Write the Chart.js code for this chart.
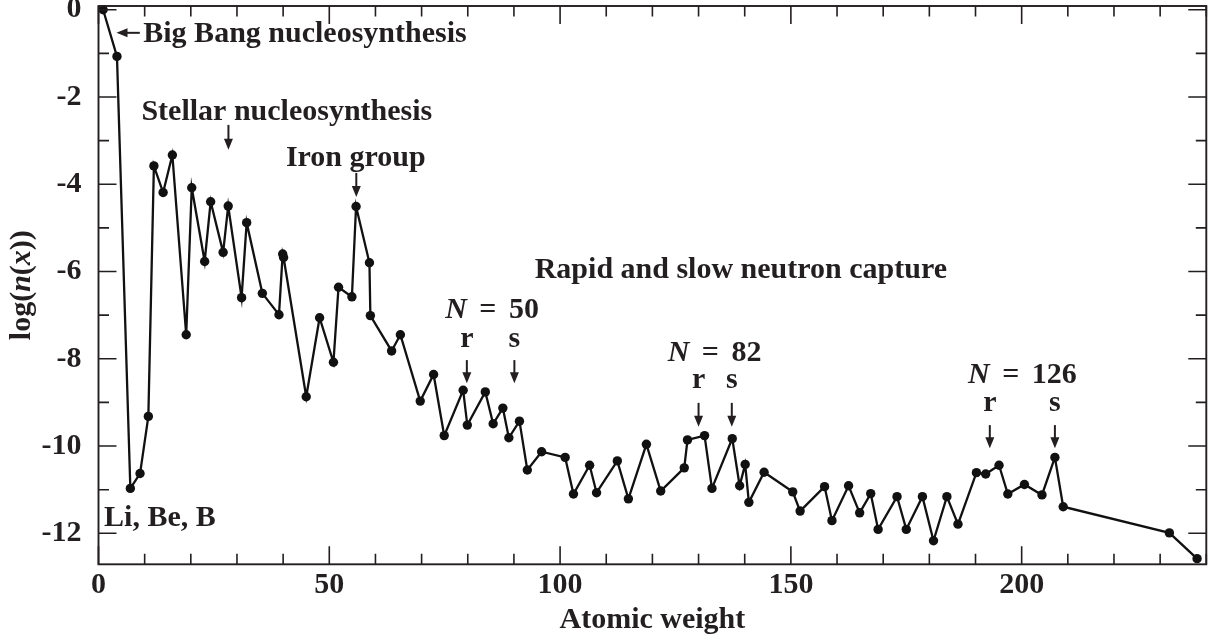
<!DOCTYPE html>
<html>
<head>
<meta charset="utf-8">
<title>Solar system abundances</title>
<script src="https://cdn.jsdelivr.net/npm/chart.js@4.4.1/dist/chart.umd.min.js"></script>
<style>
    html, body { margin: 0; padding: 0; background: #fff; overflow: hidden; }
    canvas { display: block; }
</style>
</head>
<body>
<canvas id="abundanceChart" width="1211" height="635"></canvas>
<script>
// Element symbols, atomic weight and log abundance relative to hydrogen
const elements = ["H", "He", "Li", "Be", "B", "C", "N", "O", "F", "Ne", "Na", "Mg", "Al", "Si", "P", "S", "Cl",
    "K", "Ar", "Ca", "Sc", "Ti", "V", "Cr", "Mn", "Fe", "Ni", "Co", "Cu", "Zn", "Ga", "Ge", "As", "Se", "Br",
    "Kr", "Rb", "Sr", "Y", "Zr", "Nb", "Mo", "Ru", "Rh", "Pd", "Ag", "Cd", "In", "Sn", "Sb", "I", "Te", "Xe",
    "Cs", "Ba", "La", "Ce", "Pr", "Nd", "Sm", "Eu", "Gd", "Tb", "Dy", "Ho", "Er", "Tm", "Yb", "Lu", "Hf", "Ta",
    "W", "Re", "Os", "Ir", "Pt", "Au", "Hg", "Tl", "Pb", "Bi", "Th", "U"];

const atomicWeight = [1.0, 4.0, 6.9, 9.0, 10.8, 12.0, 14.0, 16.0, 19.0, 20.2, 23.0, 24.3, 27.0, 28.1, 31.0, 32.1, 35.5,
    39.1, 39.9, 40.1, 45.0, 47.9, 50.9, 52.0, 54.9, 55.8, 58.7, 58.9, 63.5, 65.4, 69.7, 72.6, 74.9, 79.0, 79.9,
    83.8, 85.5, 87.6, 88.9, 91.2, 92.9, 96.0, 101.1, 102.9, 106.4, 107.9, 112.4, 114.8, 118.7, 121.8, 126.9, 127.6, 131.3,
    132.9, 137.3, 138.9, 140.1, 140.9, 144.2, 150.4, 152.0, 157.3, 158.9, 162.5, 164.9, 167.3, 168.9, 173.0, 175.0, 178.5, 180.9,
    183.8, 186.2, 190.2, 192.2, 195.1, 197.0, 200.6, 204.4, 207.2, 209.0, 232.0, 238.0];

const logAbundance = [0.0, -1.07, -10.97, -10.63, -9.32, -3.58, -4.19, -3.33, -7.45, -4.08, -5.77, -4.40, -5.56, -4.50, -6.60, -4.88, -6.50,
    -6.99, -5.60, -5.68, -8.87, -7.06, -8.08, -6.36, -6.58, -4.51, -5.80, -7.01, -7.82, -7.45, -8.97, -8.36, -9.76, -8.72, -9.52,
    -8.76, -9.49, -9.13, -9.81, -9.43, -10.55, -10.13, -10.26, -11.10, -10.44, -11.07, -10.34, -11.21, -9.96, -11.03, -10.50, -9.86, -9.76,
    -10.97, -9.83, -10.91, -10.42, -11.29, -10.60, -11.05, -11.49, -10.93, -11.71, -10.91, -11.53, -11.09, -11.91, -11.16, -11.91, -11.16, -12.17,
    -11.16, -11.79, -10.61, -10.64, -10.44, -11.10, -10.88, -11.12, -10.26, -11.39, -11.99, -12.58];

const xTickStep = 10, xLabelEvery = 50;
const yTickStep = 1, yLabelEvery = 2;

const INK = "#231f20";
const FONT = '"Liberation Serif", "Times New Roman", serif';
const GAP = " \u2006";   // a little wider than a plain space round "="

// Labels and arrows, placed in data units (atomic weight, log abundance)
const notes = [
    { parts: [["Big Bang nucleosynthesis"]], x: 9.7, y: -0.73 },
    { parts: [["Stellar nucleosynthesis"]], x: 9.3, y: -2.52 },
    { parts: [["Iron group"]], x: 40.6, y: -3.59 },
    { parts: [["Rapid and slow neutron capture"]], x: 94.5, y: -6.15 },
    { parts: [["N", true], [GAP + "=" + GAP + "50"]], x: 75.1, y: -7.07 },
    { parts: [["r"]], x: 79.8, y: -7.72, center: true },
    { parts: [["s"]], x: 90.1, y: -7.72, center: true },
    { parts: [["N", true], [GAP + "=" + GAP + "82"]], x: 123.3, y: -8.04 },
    { parts: [["r"]], x: 130.0, y: -8.68, center: true },
    { parts: [["s"]], x: 137.2, y: -8.68, center: true },
    { parts: [["N", true], [GAP + "=" + GAP + "126"]], x: 188.4, y: -8.56 },
    { parts: [["r"]], x: 193.1, y: -9.20, center: true },
    { parts: [["s"]], x: 207.2, y: -9.20, center: true },
    { parts: [["Li, Be, B"]], x: 1.2, y: -11.83 }
];

const arrows = [
    { from: [8.95, -0.53], to: [3.9, -0.53] },
    { from: [28.15, -2.64], to: [28.15, -3.21] },
    { from: [55.85, -3.74], to: [55.85, -4.29] },
    { from: [79.8, -8.03], to: [79.8, -8.56] },
    { from: [90.1, -8.03], to: [90.1, -8.56] },
    { from: [130.0, -9.01], to: [130.0, -9.56] },
    { from: [137.2, -9.01], to: [137.2, -9.56] },
    { from: [193.1, -9.52], to: [193.1, -10.05] },
    { from: [207.2, -9.52], to: [207.2, -10.05] }
];

// Draws a run of text pieces, some of them italic
function drawRich(ctx, parts, x, y, center) {
    const fonts = parts.map(p => (p[1] ? "italic bold 30px " : "bold 30px ") + FONT);
    let total = 0;
    parts.forEach((p, i) => { ctx.font = fonts[i]; total += ctx.measureText(p[0]).width; });
    let cx = center ? x - total / 2 : x;
    ctx.textAlign = "left";
    parts.forEach((p, i) => {
        ctx.font = fonts[i];
        ctx.fillText(p[0], cx, y);
        cx += ctx.measureText(p[0]).width;
    });
}

function drawArrow(ctx, x1, y1, x2, y2) {
    const ang = Math.atan2(y2 - y1, x2 - x1);
    const head = 11, half = 4.5;
    ctx.beginPath();
    ctx.moveTo(x1, y1);
    ctx.lineTo(x2 - Math.cos(ang) * head * 0.8, y2 - Math.sin(ang) * head * 0.8);
    ctx.stroke();
    ctx.beginPath();
    ctx.moveTo(x2, y2);
    ctx.lineTo(x2 - Math.cos(ang) * head - Math.sin(ang) * half, y2 - Math.sin(ang) * head + Math.cos(ang) * half);
    ctx.lineTo(x2 - Math.cos(ang) * head + Math.sin(ang) * half, y2 - Math.sin(ang) * head - Math.cos(ang) * half);
    ctx.closePath();
    ctx.fill();
}

// Box round the plot with inward ticks on all four sides
const framePlugin = {
    id: "frame",
    afterDatasetsDraw(chart) {
        const { ctx, chartArea: a, scales: { x, y } } = chart;
        ctx.save();
        ctx.strokeStyle = INK;
        ctx.lineWidth = 1.6;
        x.ticks.forEach(t => {
            const px = x.getPixelForValue(t.value);
            const len = t.value % xLabelEvery === 0 ? 18 : 10.5;
            ctx.beginPath();
            ctx.moveTo(px, a.bottom); ctx.lineTo(px, a.bottom - len);
            ctx.moveTo(px, a.top); ctx.lineTo(px, a.top + len);
            ctx.stroke();
        });
        y.ticks.forEach(t => {
            const py = y.getPixelForValue(t.value);
            const len = t.value % yLabelEvery === 0 ? 18 : 10.5;
            ctx.beginPath();
            ctx.moveTo(a.left, py); ctx.lineTo(a.left + len, py);
            ctx.moveTo(a.right, py); ctx.lineTo(a.right - len, py);
            ctx.stroke();
        });
        ctx.lineWidth = 1.9;
        ctx.strokeRect(a.left, a.top, a.right - a.left, a.bottom - a.top);
        ctx.restore();
    }
};

const notesPlugin = {
    id: "notes",
    afterDraw(chart) {
        const { ctx, chartArea: a, scales: { x, y } } = chart;
        ctx.save();
        ctx.fillStyle = INK;
        ctx.strokeStyle = INK;
        ctx.lineWidth = 2;
        ctx.textBaseline = "alphabetic";
        notes.forEach(n => drawRich(ctx, n.parts, x.getPixelForValue(n.x), y.getPixelForValue(n.y), n.center));
        arrows.forEach(ar => drawArrow(ctx,
            x.getPixelForValue(ar.from[0]), y.getPixelForValue(ar.from[1]),
            x.getPixelForValue(ar.to[0]), y.getPixelForValue(ar.to[1])));

        // y axis title: log(n(x)) with italic n and x
        ctx.translate(30, (a.top + a.bottom) / 2);
        ctx.rotate(-Math.PI / 2);
        drawRich(ctx, [["log("], ["n", true], ["("], ["x", true], ["))"]], 0, 0, true);
        ctx.restore();
    }
};

const points = atomicWeight.map((w, i) => ({ x: w, y: logAbundance[i] }));

new Chart(document.getElementById("abundanceChart"), {
    type: "line",
    data: {
        labels: elements,
        datasets: [{
            data: points,
            borderColor: "#111",
            borderWidth: 2.3,
            pointRadius: 4.7,
            pointBackgroundColor: "#111",
            pointBorderWidth: 0,
            tension: 0,
            clip: false
        }]
    },
    options: {
        responsive: false,
        animation: false,
        events: [],
        layout: { padding: { top: 6, right: 0, left: 0, bottom: 0 } },
        plugins: {
            legend: { display: false },
            tooltip: { enabled: false }
        },
        scales: {
            x: {
                type: "linear",
                min: 0,
                max: 240,
                grid: { display: false },
                border: { display: false },
                ticks: {
                    stepSize: xTickStep,
                    autoSkip: false,
                    maxRotation: 0,
                    padding: -5,
                    color: INK,
                    font: { family: FONT, size: 30, weight: "bold" },
                    callback: v => (v % xLabelEvery === 0 ? String(v) : "")
                },
                title: {
                    display: true,
                    text: "Atomic weight",
                    color: INK,
                    padding: { top: 0, bottom: -3 },
                    font: { family: FONT, size: 30, weight: "bold" }
                },
                afterFit(scale) {
                    scale.height = 70.7;
                    scale.paddingLeft = 0;
                    scale.paddingRight = 0;
                }
            },
            y: {
                min: -12.71,
                max: 0.085,
                grid: { display: false },
                border: { display: false },
                ticks: {
                    stepSize: yTickStep,
                    includeBounds: false,
                    autoSkip: false,
                    padding: 9,
                    color: INK,
                    font: { family: FONT, size: 30, weight: "bold" },
                    callback: v => (v % yLabelEvery === 0 ? String(v) : "")
                },
                afterFit(scale) {
                    scale.width = 98.5;
                    scale.paddingTop = 0;
                    scale.paddingBottom = 0;
                }
            }
        }
    },
    plugins: [framePlugin, notesPlugin]
});
</script>
</body>
</html>
